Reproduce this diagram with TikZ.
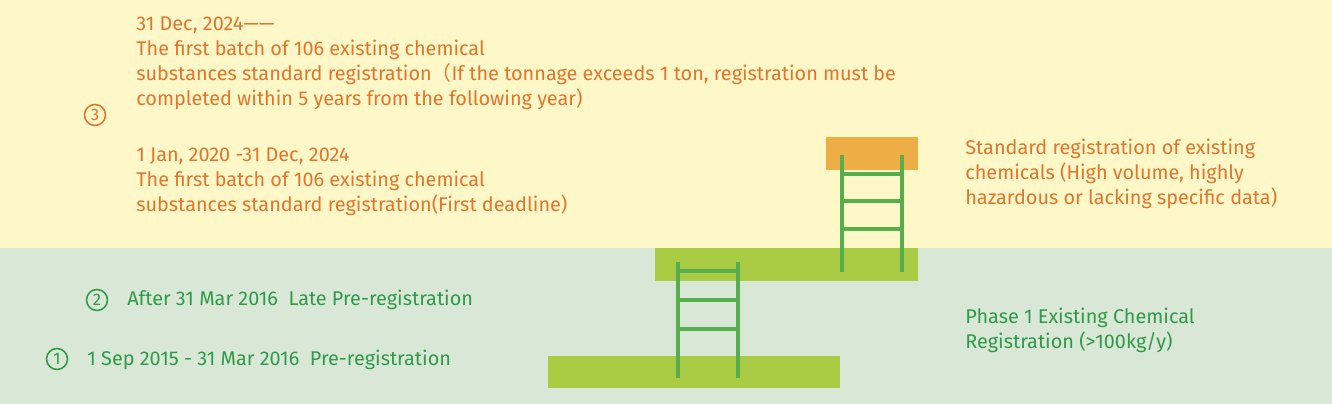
\documentclass[tikz,border=0pt]{standalone}
\usepackage{fontspec}
\setmainfont{Fira Sans}
\newfontfamily\cjk{Noto Sans CJK SC}
\definecolor{bgY}{HTML}{FEF8C9}
\definecolor{bgG}{HTML}{D9E8D6}
\definecolor{orT}{HTML}{E2752C}
\definecolor{grT}{HTML}{2F9A48}
\definecolor{barG}{HTML}{AACB44}
\definecolor{barO}{HTML}{EDAF45}
\definecolor{lad}{HTML}{56AE4C}
\begin{document}
\begin{tikzpicture}[x=0.02cm,y=-0.02cm,
  txt/.style={anchor=west,inner sep=0,font=\fontsize{11.3}{14.3}\selectfont,align=left},
  num/.style={circle,draw,line width=0.9pt,inner sep=0,minimum size=0.42cm,font=\fontsize{9.5}{10}\selectfont},
  rail/.style={lad,line width=2.8pt}]
\fill[bgY] (0,0) rectangle (1332,248);
\fill[bgG] (0,248) rectangle (1332,404);
\useasboundingbox (0,0) rectangle (1332,404);
% bars
\fill[barO] (826,137) rectangle (918,170);
\fill[barG] (655,248) rectangle (918,281);
\fill[barG] (548,356) rectangle (840,388);
% upper ladder
\coordinate (u1) at (842,155); \coordinate (u2) at (842,272);
\coordinate (u3) at (902,155); \coordinate (u4) at (902,272);
\draw[rail] (u1) -- (u2); \draw[rail] (u3) -- (u4);
\foreach \y in {174,201,229} \draw[rail] (842,\y) -- (902,\y);
% lower ladder
\coordinate (l1) at (678,262); \coordinate (l2) at (678,378);
\coordinate (l3) at (738,262); \coordinate (l4) at (738,378);
\draw[rail] (l1) -- (l2); \draw[rail] (l3) -- (l4);
\foreach \y in {271,300,329} \draw[rail] (678,\y) -- (738,\y);
% orange texts
\node[num,orT,text=orT] (n3) at (95,115) {3};
\node[txt,text=orT] (t3a) at (136,63) {31 Dec, 2024——\\The first batch of 106 existing chemical\\substances standard registration{\cjk （}If the tonnage exceeds 1 ton, registration must be\\completed within 5 years from the following year)};
\node[txt,text=orT] (t3b) at (136,182) {1 Jan, 2020 -31 Dec, 2024\\The first batch of 106 existing chemical\\substances standard registration(First deadline)};
\node[txt,text=orT] (t3c) at (965,174) {Standard registration of existing\\chemicals (High volume, highly\\hazardous or lacking specific data)};
% green texts
\node[num,grT,text=grT] (n2) at (97,300) {2};
\node[txt,text=grT] (t2) at (127,300) {After 31 Mar 2016\ \ Late Pre-registration};
\node[num,grT,text=grT] (n1) at (57,359) {1};
\node[txt,text=grT] (t1) at (87,360) {1 Sep 2015 - 31 Mar 2016\ \ Pre-registration};
\node[txt,text=grT] (t4) at (965,330) {Phase 1 Existing Chemical\\Registration (>100kg/y)};
\end{tikzpicture}
\end{document}
